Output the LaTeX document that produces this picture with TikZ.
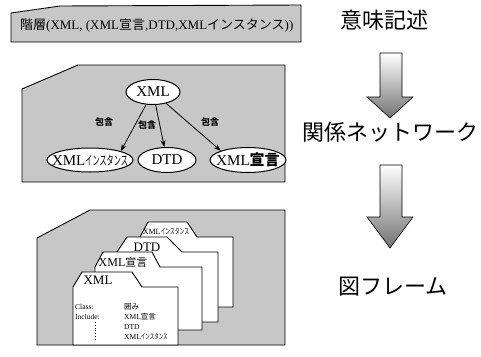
\documentclass[tikz,border=0pt]{standalone}
\usepackage{fontspec}
\setmainfont{Liberation Serif}
\newfontfamily\jp{Noto Sans CJK JP}
\usetikzlibrary{shapes.geometric,arrows.meta}
\newcommand{\fs}[1]{\fontsize{#1}{#1}\selectfont}
\newcommand{\kat}[2]{\scalebox{#1}[1]{\jp #2}}
\newcommand{\drawfolder}[7]{% L, T, tabL, tabR, slantX, R, B
  \filldraw[fill=white,draw=black,line width=0.9pt]
    (#1,#7) -- (#1,#2+15) -- (#3,#2) -- (#4,#2) -- (#5,#2+15) -- (#6,#2+15) -- (#6,#7) -- cycle;}
\begin{document}
\begin{tikzpicture}[x=1pt,y=-1pt,
  panel/.style={fill=black!22,draw=black,line width=0.9pt},
  ell/.style={ellipse,draw=black,fill=white,line width=1pt,inner sep=0pt},
  etxt/.style={inner sep=0pt},
  rel/.style={-{Stealth[length=7pt,width=5pt]},line width=0.8pt},
  lbl/.style={inner sep=0pt,font=\jp\bfseries\fs{9}},
  big/.style={inner sep=0pt,font=\jp\fs{22}},
  flow/.style={draw=black,line width=0.6pt,top color=white,bottom color=black!55},
  ftxt/.style={inner sep=0pt,anchor=west,font=\fs{7.5}}]
\useasboundingbox (0,0) rectangle (481,356);

% banner
\path[panel] (11,13) -- (60,6) -- (301,5) -- (301,42) -- (11,42) -- cycle;
\node[inner sep=0pt,anchor=west] (banner) at (20,25)
  {\fs{13}{\jp 階層}(XML, (XML{\jp 宣言},DTD,XML{\jp インスタンス}))};

% middle panel
\path[panel] (22,89) -- (78,65) -- (285,65) -- (285,182) -- (22,182) -- cycle;
\node[ell,minimum width=54pt,minimum height=25pt] (xml) at (153,92) {};
\node[etxt,font=\fs{15}] (xmlt) at (xml) {XML};
\node[ell,minimum width=86pt,minimum height=24pt] (inst) at (90,160) {};
\node[etxt] (instt) at (inst) {\fs{15}XML\kat{0.55}{\fs{13}インスタンス}};
\node[ell,minimum width=58pt,minimum height=25pt] (dtd) at (167,160) {};
\node[etxt,font=\fs{15}] (dtdt) at (dtd) {DTD};
\node[ell,minimum width=76pt,minimum height=25pt] (decl) at (248,160) {};
\node[etxt] (declt) at (decl) {\fs{15}XML{\jp\bfseries\fs{15}宣言}};
\draw[rel] (xml) -- (inst.north east);
\draw[rel] (xml) -- (dtd);
\draw[rel] (xml) -- (decl.north west);
\node[lbl] (l1) at (104,122) {包含};
\node[lbl] (l2) at (147,125) {包含};
\node[lbl] (l3) at (210,122) {包含};

% bottom panel
\path[panel] (37,238) -- (90,210) -- (285,210) -- (285,345) -- (37,345) -- cycle;
\drawfolder{140}{222}{148}{187}{197}{233}{307}
\drawfolder{117}{237}{127}{167}{182}{218}{322}
\drawfolder{95}{252}{103}{152}{160}{202}{330}
\drawfolder{73}{272}{82}{132}{142}{178}{345}
\node[inner sep=0pt,font=\fs{8}] (f4) at (166,231) {XML\kat{0.6}{\fs{8}インスタンス}};
\node[inner sep=0pt,font=\fs{13}] (f3) at (147,247) {DTD};
\node[inner sep=0pt] (f2) at (123,262) {\fs{12}XML{\jp\fs{11}宣言}};
\node[inner sep=0pt,font=\fs{13}] (f1) at (98,280) {XML};
\node[ftxt] (c1) at (75,307) {Class:};
\node[ftxt] (c2) at (75,317) {Include:};
\node[ftxt] (v1) at (124,307) {{\jp 囲み}};
\node[ftxt] (v2) at (124,317) {XML{\jp 宣言}};
\node[ftxt] (v3) at (124,327) {DTD};
\node[ftxt] (v4) at (124,337) {XML\kat{0.6}{\fs{7.5}インスタンス}};
\coordinate (d1) at (95,322);
\coordinate (d2) at (95,341);
\draw[dotted,line width=0.8pt] (d1) -- (d2);

% right column
\node[big] (t1) at (384,20) {意味記述};
\node[big] (t2) at (390,132) {関係ネットワーク};
\node[big] (t3) at (393,287) {図フレーム};
\path[flow] (380,53) -- (402,53) -- (402,97) -- (413,97) -- (390,118) -- (367,97) -- (380,97) -- cycle;
\path[flow] (380,165) -- (402,165) -- (402,217) -- (413,217) -- (390,248) -- (367,217) -- (380,217) -- cycle;
\end{tikzpicture}
\end{document}
